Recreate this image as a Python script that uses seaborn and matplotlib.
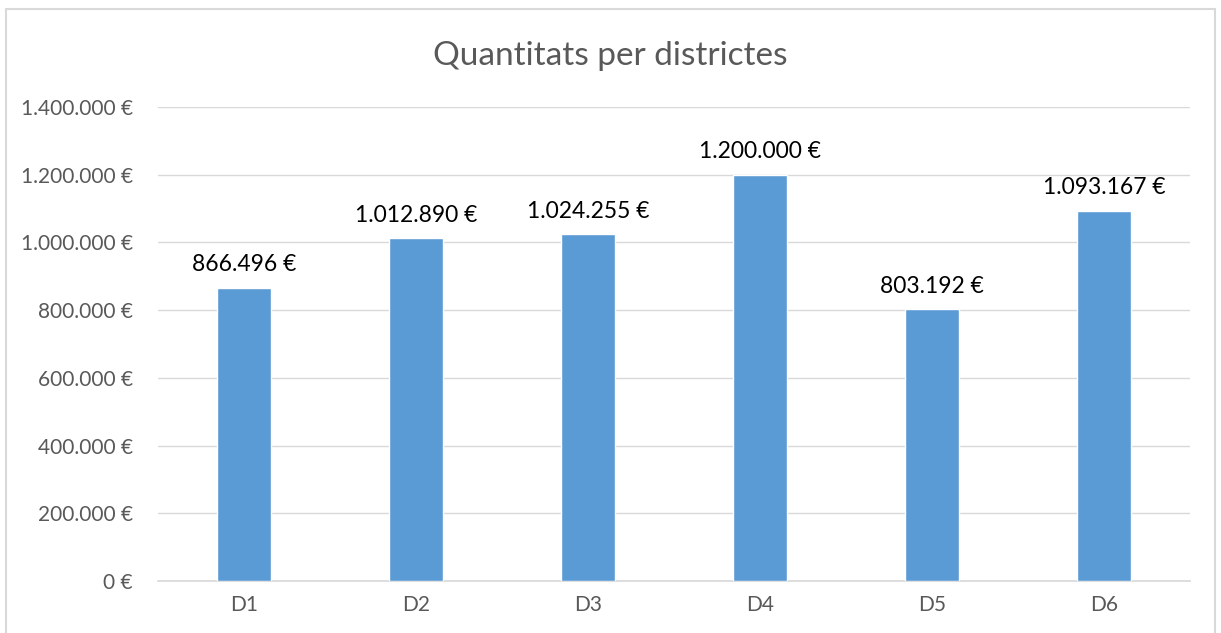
import numpy as np
import pandas as pd
import matplotlib.pyplot as plt
import seaborn as sns
from matplotlib.patches import Rectangle
from matplotlib.ticker import FuncFormatter

districts = ["D1", "D2", "D3", "D4", "D5", "D6"]
amounts = [866496, 1012890, 1024255, 1200000, 803192, 1093167]


def euro(v):
    return f"{int(round(v)):,}".replace(",", ".") + " €"


sns.set_theme(style="white")
plt.rcParams['font.family'] = ['Lato', 'DejaVu Sans']

df = pd.DataFrame({"district": districts, "amount": amounts})

fig = plt.figure(figsize=(12.21, 6.33), dpi=100)
ax = fig.add_axes([0.1294, 0.0821, 0.8452, 0.7488])

sns.barplot(data=df, x="district", y="amount", color="#5B9BD5",
            width=0.314, saturation=1, ax=ax, zorder=3)

ax.set_ylim(0, 1400000)
ax.set_xlim(-0.5, 5.5)
ax.set_yticks(np.arange(0, 1400001, 200000))
ax.yaxis.set_major_formatter(FuncFormatter(lambda v, p: euro(v)))
ax.grid(axis="y", color="#D9D9D9", linewidth=1, zorder=0)
ax.grid(axis="x", visible=False)
for s in ["top", "right", "left"]:
    ax.spines[s].set_visible(False)
ax.spines["bottom"].set_color("#D9D9D9")
ax.tick_params(axis="both", length=0, labelsize=15, colors="#595959")
ax.tick_params(axis="y", pad=18)
ax.tick_params(axis="x", pad=10)
ax.set_xlabel("")
ax.set_ylabel("")

for i, v in enumerate(amounts):
    ax.annotate(euro(v), (i, v), xytext=(0, 9), textcoords="offset points",
                ha="center", va="bottom", fontsize=16.5, color="#000000")

fig.text(0.5, 0.912, "Quantitats per districtes", ha="center", va="center",
         fontsize=24, color="#595959")

fig.patches.append(Rectangle((0.005, -0.01), 0.99, 0.995, transform=fig.transFigure,
                             fill=False, edgecolor="#D9D9D9", linewidth=1.5))

fig.savefig("out.png", dpi=100)
